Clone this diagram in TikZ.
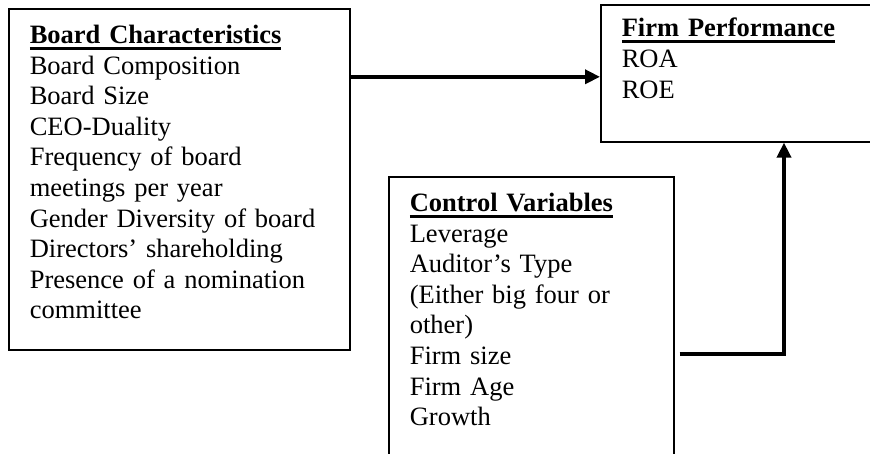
\documentclass[tikz,border=0pt]{standalone}
\usepackage{fontspec}
\setmainfont{Liberation Serif}
\usepackage{tikz}
\usetikzlibrary{arrows.meta}

\newcommand{\headtitle}[1]{\setbox0\hbox{\bfseries #1}\rlap{\rule[-6.5pt]{\wd0}{3pt}}\box0}

\begin{document}
\begin{tikzpicture}[x=1pt, y=-1pt,
    varbox/.style={draw, line width=1.6pt, anchor=north west, align=left, inner xsep=21pt, inner ysep=0pt, font=\fontsize{26.5pt}{30.6pt}\selectfont},
    flow/.style={line width=3.6pt, -{Triangle[length=15pt, width=14pt]}}]
    \fill[white] (0,0) rectangle (870,453);
    \useasboundingbox (0,0) rectangle (870,453);

    \node[varbox, text width=299pt, text height=34.7pt, text depth=306.3pt] (board) at (8,8)
        {\headtitle{Board Characteristics}\\
         Board Composition\\
         Board Size\\
         CEO-Duality\\
         Frequency of board\\
         meetings per year\\
         Gender Diversity of board\\
         Directors’ shareholding\\
         Presence of a nomination\\
         committee};

    \node[varbox, text width=253pt, text height=32pt, text depth=105pt] (perf) at (600,4)
        {\headtitle{Firm Performance}\\
         ROA\\
         ROE};

    \node[varbox, text width=243pt, text height=34.7pt, text depth=275pt] (ctrl) at (388,176)
        {\headtitle{Control Variables}\\
         Leverage\\
         Auditor’s Type\\
         (Either big four or\\
         other)\\
         Firm size\\
         Firm Age\\
         Growth};

    \coordinate (ctrlout) at ([xshift=5pt]ctrl.east |- 0,354);
    \coordinate (bend) at (784,354);

    \draw[flow] ([yshift=-3.5pt]board.east |- perf.west) -- ([yshift=-3.5pt]perf.west);
    \draw[flow] (ctrlout) -- (bend) -- (bend |- perf.south);
\end{tikzpicture}
\end{document}
